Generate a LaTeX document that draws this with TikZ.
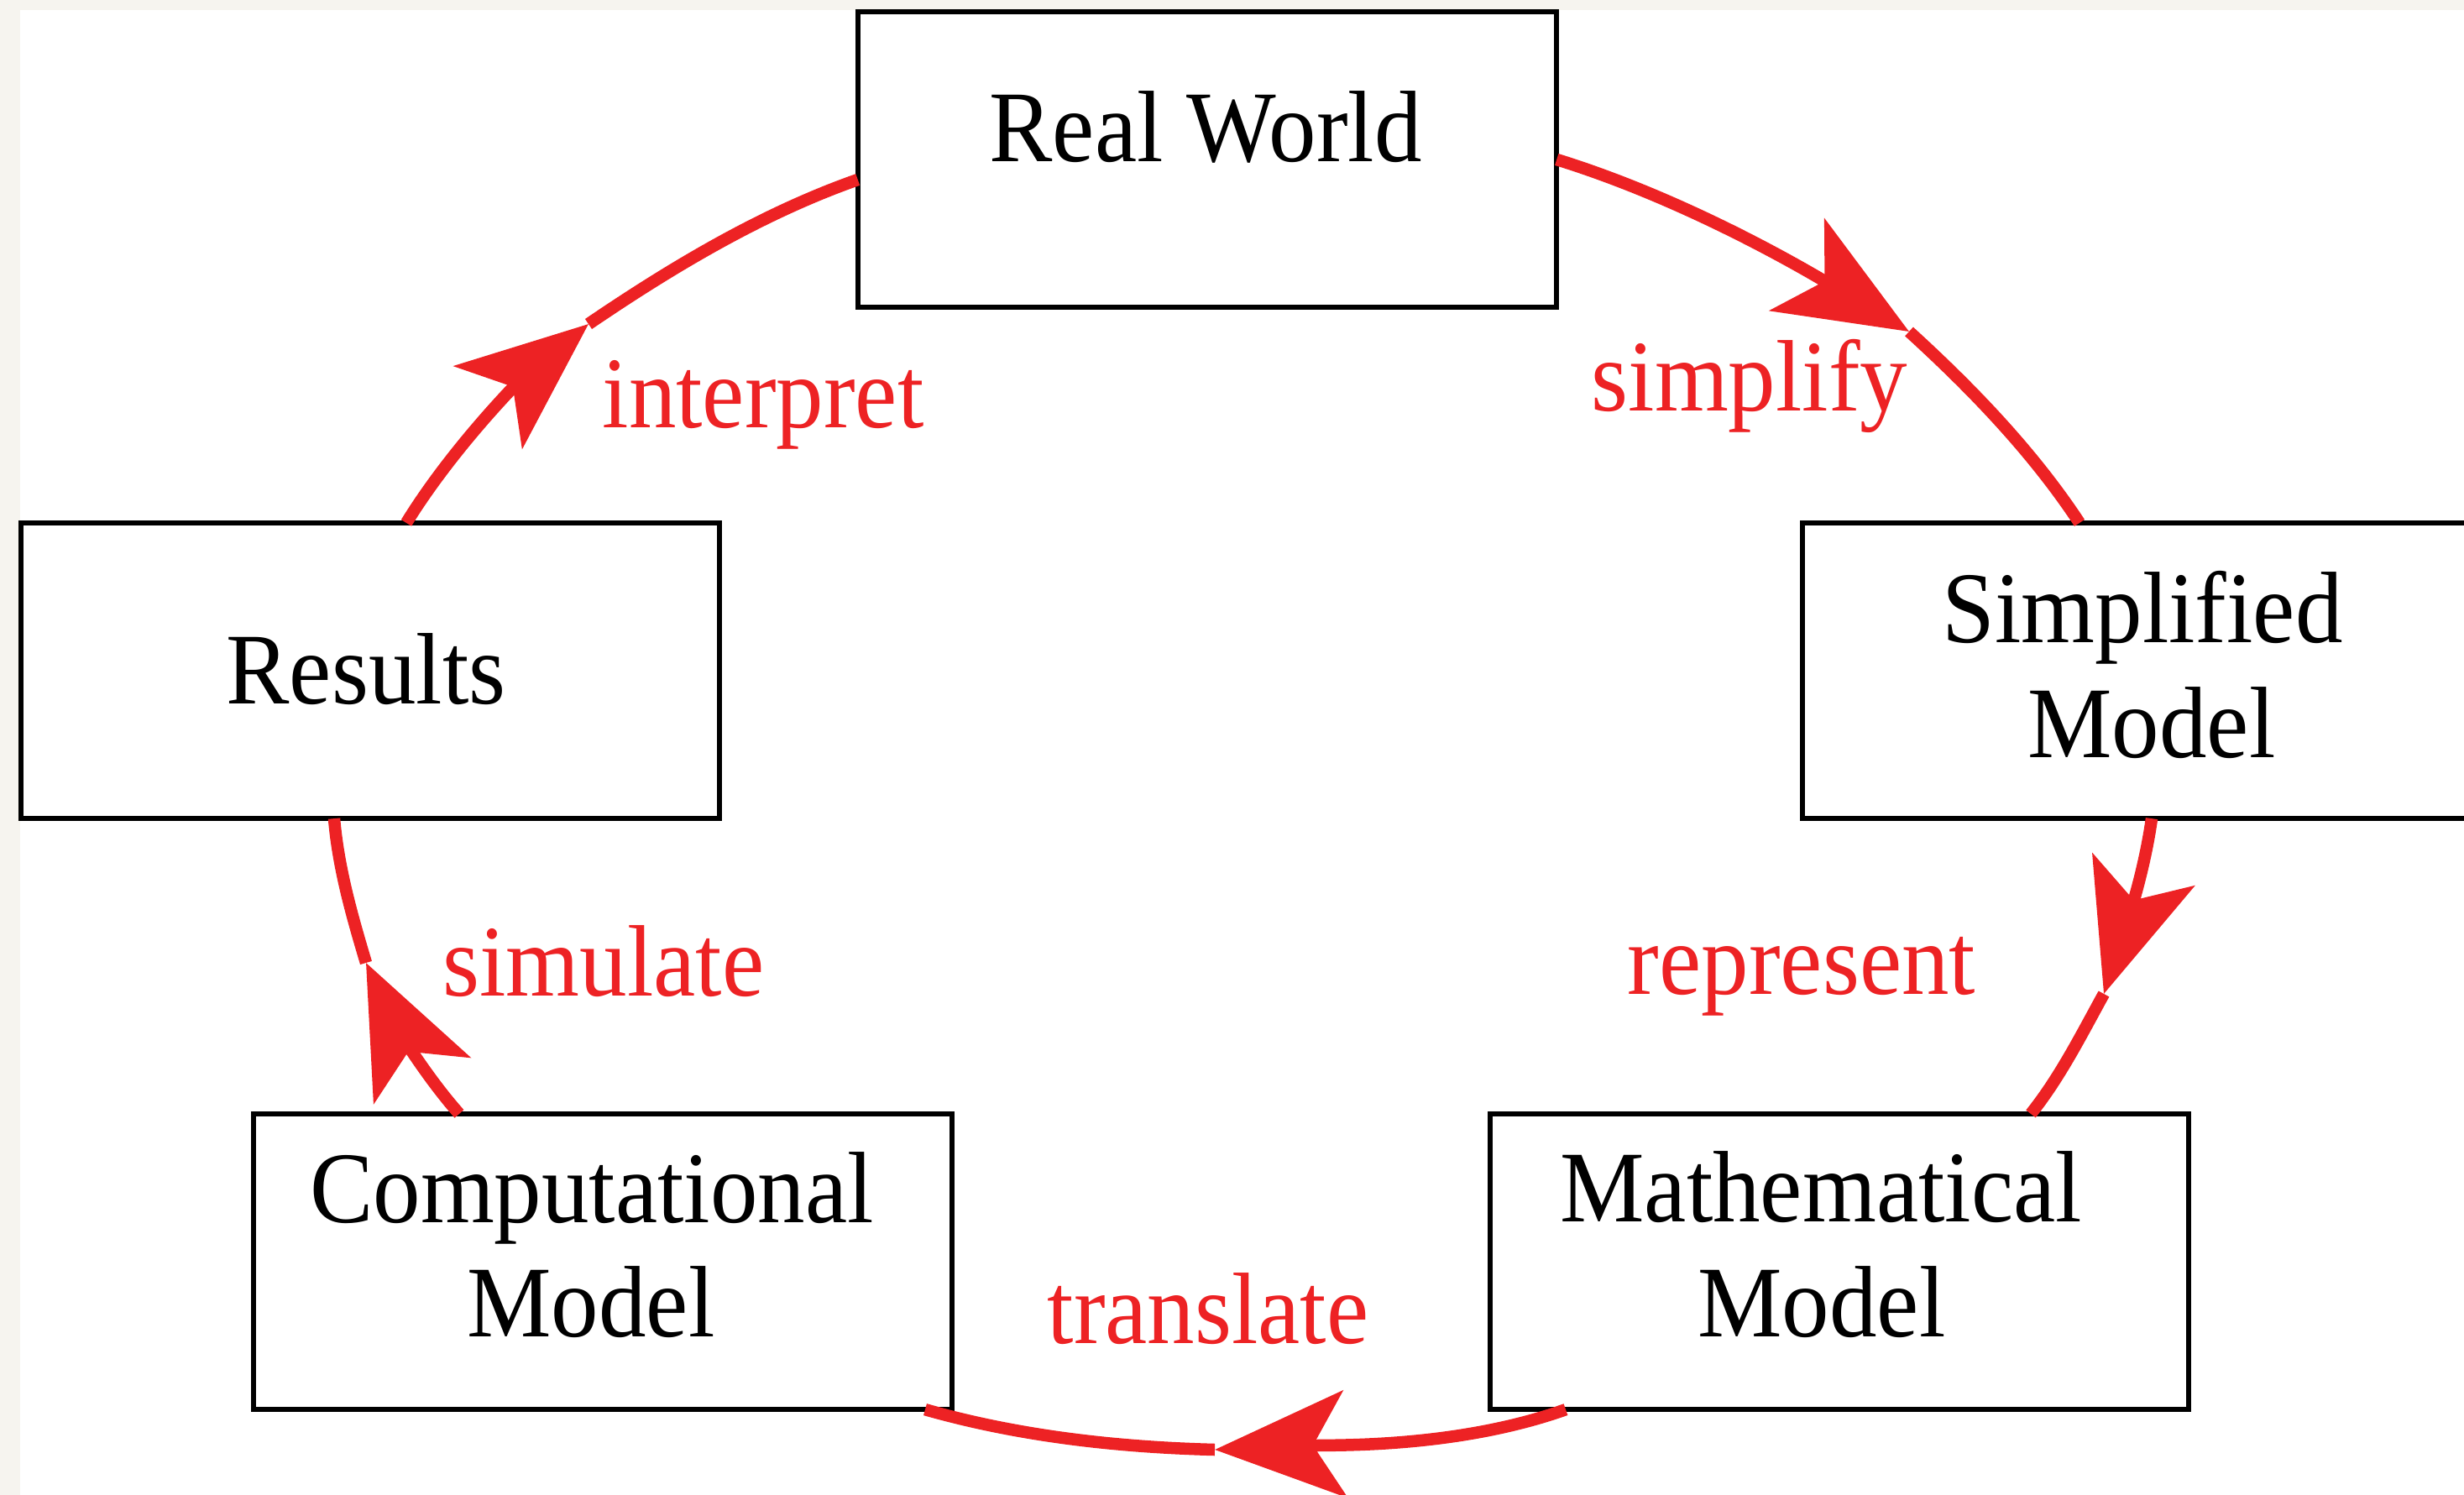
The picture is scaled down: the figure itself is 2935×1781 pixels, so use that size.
\documentclass[tikz,border=0pt]{standalone}
\usepackage{fontspec}
\setmainfont{Liberation Serif}
\usepackage{graphicx}
\usetikzlibrary{arrows.meta,calc}
\definecolor{edgered}{RGB}{237,34,36}
\definecolor{paper}{RGB}{246,244,239}
\newcommand\sq[1]{\scalebox{0.934}[1]{#1}}
\begin{document}
\begin{tikzpicture}[x=0.01cm,y=-0.01cm,
  box/.style={draw=black, line width=0.06cm, fill=white, minimum width=8.32cm, minimum height=3.52cm, inner sep=0pt, outer sep=0pt},
  txt/.style={anchor=base, inner sep=0pt, font=\fontsize{34.4pt}{40pt}\selectfont},
  lbl/.style={txt, text=edgered},
  edge/.style={draw=edgered, line width=0.145cm},
  arr/.style={edge, -{Stealth[length=1.55cm,width=1.27cm,inset=0.38cm]}}
]
\useasboundingbox (0,0) rectangle (2935,1781);
\fill[paper] (0,0) rectangle (2935,1781);
\fill[white] (24,12) rectangle (2935,1781);
\clip (0,0) rectangle (2935,1781);

% boxes
\node[box] (rw) at (1438,190) {};
\node[box] (sm) at (2563,799) {};
\node[box] (mm) at (2191,1503) {};
\node[box] (cm) at (718,1503) {};
\node[box] (rs) at (441,799) {};

% box texts
\node[txt] (rwT) at (1436,192) {\sq{Real World}};
\node[txt] (smA) at (2552,765) {\sq{Simplified}};
\node[txt] (smB) at (2563,902) {\sq{Model}};
\node[txt] (mmA) at (2169,1455) {\sq{Mathematical}};
\node[txt] (mmB) at (2170,1592) {\sq{Model}};
\node[txt] (cmA) at (705,1456) {\sq{Computational}};
\node[txt] (cmB) at (704,1592) {\sq{Model}};
\node[txt] (rsT) at (436,838) {\sq{Results}};

% arrow tip points
\coordinate (tS) at (2274,395);
\coordinate (tR) at (2506,1184);
\coordinate (tT) at (1447,1727);
\coordinate (tM) at (436,1147);
\coordinate (tI) at (701,386);

% edges
\draw[arr] (rw.east) .. controls (2003,236) and (2140,315) .. (tS);
\draw[edge] (tS) .. controls (2353,467) and (2423,541) .. ($(sm.north)+(-86,0)$);

\draw[arr] (sm.south) .. controls (2553,1047) and (2528,1115) .. (tR);
\draw[edge] (tR) .. controls (2479,1233) and (2454,1283) .. ($(mm.north)+(228,0)$);

\draw[arr] ($(mm.south)+(-326,0)$) .. controls (1733,1726) and (1587,1721) .. (tT);
\draw[edge] (tT) .. controls (1331,1724) and (1214,1711) .. ($(cm.south)+(384,0)$);

\draw[arr] ($(cm.north)+(-171,0)$) .. controls (500,1274) and (466,1210) .. (tM);
\draw[edge] (tM) .. controls (419,1090) and (403,1034) .. ($(rs.south)+(-43,0)$);

\draw[arr] ($(rs.north)+(43,0)$) .. controls (540,532) and (619,454) .. (tI);
\draw[edge] (tI) .. controls (801,318) and (908,254) .. ($(rw.west)+(0,24)$);

% edge labels
\node[lbl] (lI) at (909,509) {\sq{interpret}};
\node[lbl] (lS) at (2084,489) {\sq{simplify}};
\node[lbl] (lR) at (2146,1184) {\sq{represent}};
\node[lbl] (lT) at (1439,1600) {\sq{translate}};
\node[lbl] (lM) at (719,1186) {\sq{simulate}};
\end{tikzpicture}
\end{document}
